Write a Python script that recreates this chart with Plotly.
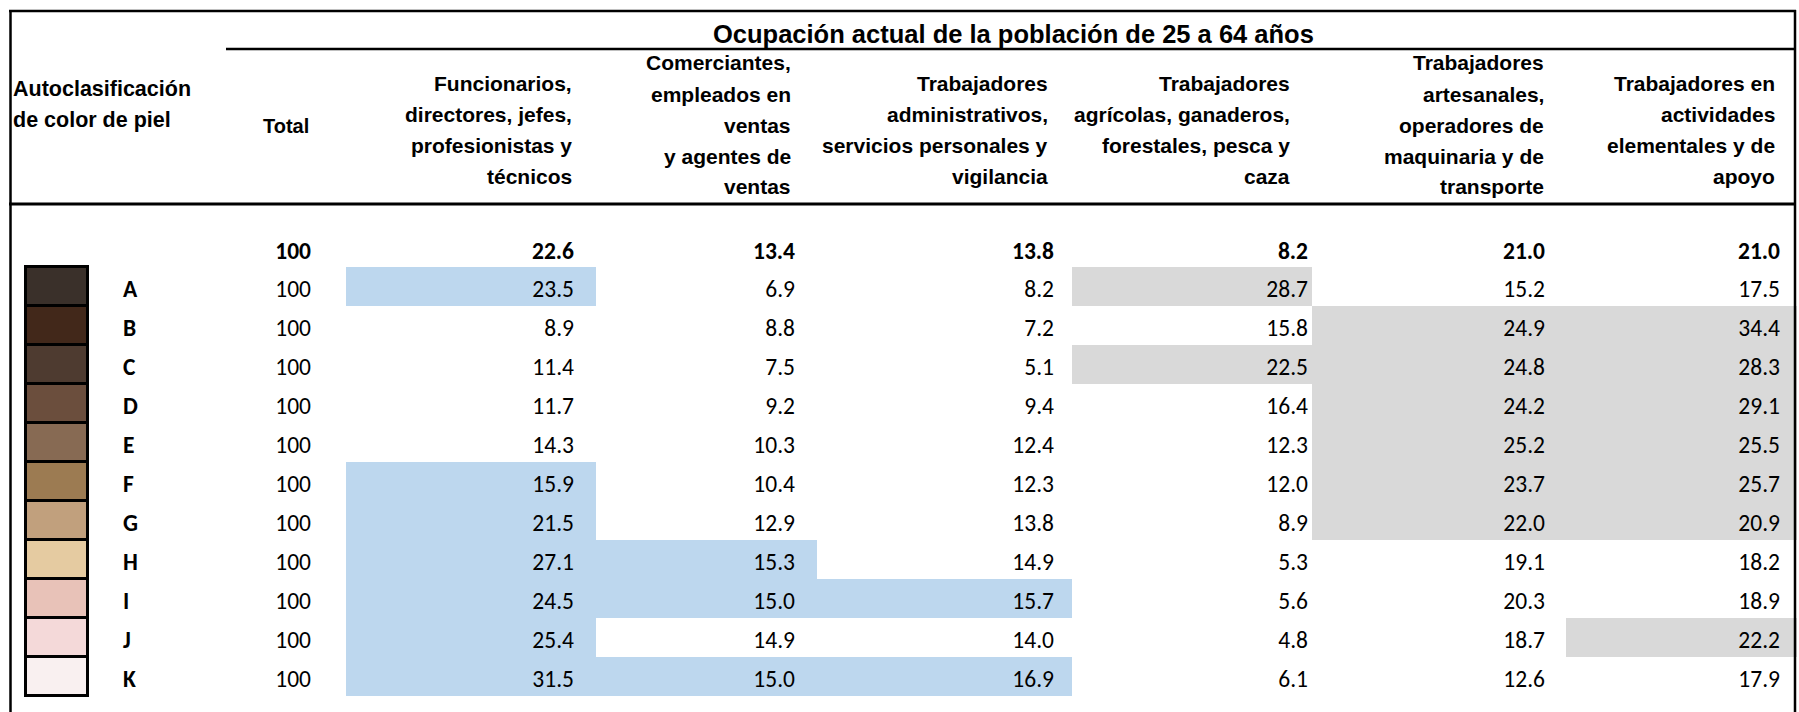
import plotly.graph_objects as go

# ---------------- data ----------------
row_labels = ["A", "B", "C", "D", "E", "F", "G", "H", "I", "J", "K"]
swatch_colors = ["#3A302A", "#42281A", "#4E3B30", "#6B4E3D", "#876A53", "#9C7B52",
                 "#C1A07D", "#E5CBA1", "#E8C2B8", "#F4D9D9", "#F9F0F0"]

title_text = "Ocupación actual de la población de 25 a 64 años"
row_header = ["Autoclasificación", "de color de piel"]
total_header = "Total"
col_headers = [
    ["Funcionarios,", "directores, jefes,", "profesionistas y", "técnicos"],
    ["Comerciantes,", "empleados en", "ventas", "y agentes de", "ventas"],
    ["Trabajadores", "administrativos,", "servicios personales y", "vigilancia"],
    ["Trabajadores", "agrícolas, ganaderos,", "forestales, pesca y", "caza"],
    ["Trabajadores", "artesanales,", "operadores de", "maquinaria y de", "transporte"],
    ["Trabajadores en", "actividades", "elementales y de", "apoyo"],
]

total_row = [100, 22.6, 13.4, 13.8, 8.2, 21.0, 21.0]
total_col = [100] * 11
funcionarios = [23.5, 8.9, 11.4, 11.7, 14.3, 15.9, 21.5, 27.1, 24.5, 25.4, 31.5]
comerciantes = [6.9, 8.8, 7.5, 9.2, 10.3, 10.4, 12.9, 15.3, 15.0, 14.9, 15.0]
administrativos = [8.2, 7.2, 5.1, 9.4, 12.4, 12.3, 13.8, 14.9, 15.7, 14.0, 16.9]
agricolas = [28.7, 15.8, 22.5, 16.4, 12.3, 12.0, 8.9, 5.3, 5.6, 4.8, 6.1]
artesanales = [15.2, 24.9, 24.8, 24.2, 25.2, 23.7, 22.0, 19.1, 20.3, 18.7, 12.6]
elementales = [17.5, 34.4, 28.3, 29.1, 25.5, 25.7, 20.9, 18.2, 18.9, 22.2, 17.9]
occupation_cols = [funcionarios, comerciantes, administrativos, agricolas, artesanales, elementales]

# highlight per row: b = blue, g = grey, . = none (one char per occupation column)
highlights = ["b..g..", "....gg", "...ggg", "....gg", "....gg", "b...gg",
              "b...gg", "bb....", "bbb...", "b....g", "bbb..."]

# ---------------- layout constants ----------------
W, H = 1799, 712
ROW_PX = 39.0
ROW0_PX = 286.5          # pixel centre of row A
TEXT_DY = 0.11           # text baseline nudge (rows)
TOTAL_ROW_Y = -0.86      # position of the total row (rows)
col_edges = [346, 596, 817, 1072, 1312, 1566, 1797]
num_right = [574, 795, 1054, 1308, 1545, 1780]
head_right = [574, 793, 1050, 1292, 1546, 1777]
total_right = 311
letter_left = 123

NUM_FONT = "Carlito, 'Liberation Sans Narrow', 'Liberation Sans', sans-serif"
HEAD_FONT = "'Liberation Sans', Arial, sans-serif"
NUM_SIZE = 23.5
HEAD_SIZE = 21

y_top = -ROW0_PX / ROW_PX
y_bot = y_top + H / ROW_PX


def py(p):
    return 1 - p / H


fig = go.Figure()

# highlight cells
zmap = {"b": 1, "g": 2, ".": None}
z = [[zmap[c] for c in h] for h in highlights]
fig.add_trace(go.Heatmap(
    z=z, x=col_edges, y=[i - 0.5 for i in range(len(row_labels) + 1)],
    zmin=1, zmax=2,
    colorscale=[[0, "#BDD7EE"], [0.5, "#BDD7EE"], [0.5, "#D9D9D9"], [1, "#D9D9D9"]],
    showscale=False, hoverinfo="skip"))

# skin colour swatches
fig.add_trace(go.Bar(
    orientation="h", y=list(range(len(row_labels))), x=[62] * len(row_labels), base=26,
    width=1.0, marker=dict(color=swatch_colors, line=dict(color="black", width=3)),
    hoverinfo="skip"))

rows_y = [i + TEXT_DY for i in range(len(row_labels))]

# row letters
fig.add_trace(go.Scatter(
    x=[letter_left] * len(row_labels), y=rows_y, mode="text", text=row_labels,
    textposition="middle right",
    textfont=dict(family=NUM_FONT, size=NUM_SIZE, color="black", weight="bold"),
    hoverinfo="skip"))

# total column
fig.add_trace(go.Scatter(
    x=[total_right] * len(row_labels), y=rows_y, mode="text",
    text=[str(v) for v in total_col], textposition="middle left",
    textfont=dict(family=NUM_FONT, size=NUM_SIZE, color="black"), hoverinfo="skip"))

# occupation columns
for j, col in enumerate(occupation_cols):
    fig.add_trace(go.Scatter(
        x=[num_right[j]] * len(col), y=rows_y, mode="text",
        text=[f"{v:.1f}" for v in col], textposition="middle left",
        textfont=dict(family=NUM_FONT, size=NUM_SIZE, color="black"), hoverinfo="skip"))

# total row (bold)
fig.add_trace(go.Scatter(
    x=[total_right] + num_right, y=[TOTAL_ROW_Y] * len(total_row), mode="text",
    text=[str(total_row[0])] + [f"{v:.1f}" for v in total_row[1:]],
    textposition="middle left",
    textfont=dict(family=NUM_FONT, size=NUM_SIZE, color="black", weight="bold"),
    hoverinfo="skip"))

# ---------------- header ----------------
ann = []
ann.append(dict(x=1013, y=py(34), xref="x", yref="paper", text=title_text, showarrow=False,
                xanchor="center", yanchor="middle",
                font=dict(family=HEAD_FONT, size=25.5, color="black", weight="bold")))
for i, line in enumerate(row_header):
    ann.append(dict(x=11, y=py(89 + 31 * i), xref="x", yref="paper", text=line, showarrow=False,
                    xanchor="left", yanchor="middle",
                    font=dict(family=HEAD_FONT, size=HEAD_SIZE + 0.5, color="black", weight="bold")))
ann.append(dict(x=total_right, y=py(126), xref="x", yref="paper", text=total_header, showarrow=False,
                xanchor="right", yanchor="middle",
                font=dict(family=HEAD_FONT, size=HEAD_SIZE - 1, color="black", weight="bold")))
for j, lines in enumerate(col_headers):
    n = len(lines)
    centre = 130 - (n - 4) * 5
    for i, line in enumerate(lines):
        ann.append(dict(x=head_right[j], y=py(centre + (i - (n - 1) / 2) * 31), xref="x", yref="paper",
                        text=line, showarrow=False, xanchor="right", yanchor="middle",
                        font=dict(family=HEAD_FONT, size=HEAD_SIZE, color="black", weight="bold")))

shapes = [
    dict(type="line", xref="x", yref="paper", x0=9, x1=1796, y0=py(11), y1=py(11),
         line=dict(color="black", width=2.5)),
    dict(type="line", xref="x", yref="paper", x0=10.5, x1=10.5, y0=py(10), y1=0,
         line=dict(color="black", width=2.5)),
    dict(type="line", xref="x", yref="paper", x0=1795, x1=1795, y0=py(10), y1=0,
         line=dict(color="black", width=2.5)),
    dict(type="line", xref="x", yref="paper", x0=226, x1=1796, y0=py(49), y1=py(49),
         line=dict(color="black", width=2.5)),
    dict(type="line", xref="x", yref="paper", x0=9, x1=1796, y0=py(204), y1=py(204),
         line=dict(color="black", width=3)),
]

fig.update_layout(
    width=W, height=H, margin=dict(l=0, r=0, t=0, b=0),
    paper_bgcolor="white", plot_bgcolor="white", showlegend=False,
    xaxis=dict(range=[0, W], visible=False, fixedrange=True),
    yaxis=dict(range=[y_bot, y_top], visible=False, fixedrange=True),
    annotations=ann, shapes=shapes, bargap=0,
)

fig.write_html("out.html", config={"displayModeBar": False},
               post_script="document.body.style.margin='0';document.body.style.overflow='hidden';")
